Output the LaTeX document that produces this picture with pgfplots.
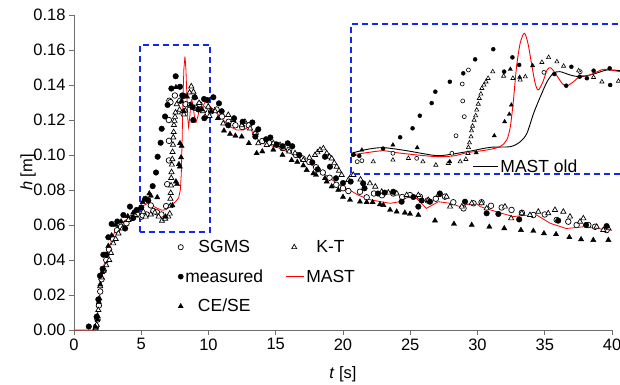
\documentclass[border=0pt]{standalone}
\usepackage{pgfplots}
\pgfplotsset{compat=1.18}
\usepackage{fontspec}
\setmainfont{Liberation Sans}
\definecolor{frameblue}{RGB}{20,40,235}
\definecolor{axgray}{RGB}{110,110,110}
\definecolor{mastred}{RGB}{255,0,0}
\begin{document}
\begin{tikzpicture}
\useasboundingbox (-74pt,-54pt) rectangle (546pt,330pt);
\begin{axis}[
  name=main,
  scale only axis, width=538pt, height=315pt,
  xmin=0, xmax=40, ymin=0, ymax=0.18,
  clip=false,
  axis lines=left,
  axis line style={-, draw=axgray, line width=0.9pt},
  xtick={0,5,10,15,20,25,30,35,40},
  ytick={0,0.02,0.04,0.06,0.08,0.10,0.12,0.14,0.16,0.18},
  scaled y ticks=false,
  yticklabel style={/pgf/number format/fixed,/pgf/number format/fixed zerofill,/pgf/number format/precision=2},
  /pgf/number format/assume math mode=true,
  tick align=outside, major tick length=5pt,
  tick style={draw=axgray, line width=0.9pt},
  ticklabel style={font=\fontsize{16.5}{19}\selectfont},
  xlabel={\textit{t} [s]}, ylabel={\textit{h} [m]},
  xlabel style={at={(axis description cs:0.5,0)}, anchor=center, yshift=-44pt, font=\fontsize{16.5}{19}\selectfont},
  ylabel style={at={(axis description cs:-0.0855,0.5)}, anchor=center, font=\fontsize{16.5}{19}\selectfont},
  legend columns=2,
  legend style={draw=none, fill=none, at={(0.1876,0.298)}, anchor=north west,
    font=\fontsize{17.5}{20}\selectfont, row sep=11.5pt,
    /tikz/every even column/.append style={column sep=20pt}},
]
% legend entries
\addlegendimage{only marks, mark=*, mark options={fill=white,draw=black,line width=0.7pt}, mark size=2.6pt}
\addlegendentry{SGMS}
\addlegendimage{only marks, mark=triangle*, mark options={fill=white,draw=black,line width=0.7pt}, mark size=2.9pt}
\addlegendentry{K-T}
\addlegendimage{only marks, mark=*, mark options={fill=black,draw=black}, mark size=2.6pt}
\addlegendentry{measured}
\addlegendimage{legend image code/.code={\draw[color=mastred, line width=1.1pt] (0pt,0.5pt) -- (18pt,0.5pt);}}
\addlegendentry{MAST}
\addlegendimage{only marks, mark=triangle*, mark options={fill=black,draw=black}, mark size=2.9pt}
\addlegendentry{CE/SE}

% SGMS
\addplot[forget plot, only marks, mark=*, mark size=2.8pt, mark options={fill=white,draw=black,line width=0.7pt}] table {
1.65 0.002
1.75 0.006
1.85 0.014
1.95 0.022
2.05 0.029
2.2 0.034
2.4 0.040
2.6 0.046
2.9 0.052
3.2 0.057
3.5 0.059
3.9 0.061
4.3 0.064
4.7 0.066
5.02 0.0648
5.11 0.0655
5.4 0.066
5.71 0.0712
5.9 0.068
6.17 0.0672
6.5 0.066
6.85 0.0708
6.93 0.0833
7.06 0.0969
7.06 0.1081
7.05 0.120
7.09 0.131
7.17 0.1302
7.5 0.134
7.9 0.131
8.3 0.129
8.63 0.1285
9.0 0.127
9.33 0.129
9.7 0.126
10.2 0.125
10.6 0.126
11.0 0.122
11.5 0.119
12.0 0.117
12.5 0.116
13.0 0.117
13.5 0.112
14.0 0.108
14.5 0.107
15.0 0.106
15.5 0.104
16.0 0.103
16.5 0.100
17.0 0.098
17.5 0.096
18.0 0.093
18.5 0.090
19.0 0.087
19.5 0.083
20.0 0.081
20.4 0.0794
21.26 0.079
21.76 0.0758
22.3 0.078
22.9 0.077
23.74 0.078
24.4 0.076
24.98 0.0771
25.72 0.0762
26.3 0.074
26.9 0.075
27.58 0.0762
28.2 0.073
28.96 0.0695
29.7 0.0724
30.3 0.073
31.0 0.071
31.8 0.070
32.53 0.0686
33.3 0.067
34.15 0.0657
35.0 0.066
35.89 0.0629
36.75 0.0619
37.37 0.060
38.24 0.060
38.74 0.059
39.6 0.0571
};

% K-T
\addplot[forget plot, only marks, mark=triangle*, mark size=3pt, mark options={fill=white,draw=black,line width=0.7pt}] table {
1.60 0.001
1.69 0.003
1.75 0.008
1.81 0.0114
1.88 0.018
1.95 0.025
2.05 0.030
2.2 0.034
2.4 0.037
2.62 0.040
2.75 0.044
2.92 0.0495
3.1 0.052
3.3 0.0552
3.6 0.058
4.04 0.0629
4.54 0.0657
5.15 0.0676
5.33 0.0648
5.71 0.066
6.01 0.0672
6.29 0.0648
6.54 0.0624
6.78 0.0636
7.01 0.0648
7.12 0.0665
7.16 0.0708
7.17 0.0750
7.19 0.0783
7.22 0.0826
7.23 0.0869
7.25 0.0902
7.28 0.0945
7.31 0.0976
7.33 0.1017
7.36 0.1059
7.38 0.1100
7.41 0.1131
7.43 0.1171
7.47 0.1195
7.51 0.1218
7.55 0.1243
7.64 0.1290
7.85 0.1259
8.03 0.1243
8.17 0.1231
8.27 0.1254
8.59 0.1357
8.72 0.1392
8.88 0.1361
9.01 0.1330
9.30 0.1297
9.59 0.1250
9.75 0.1218
9.98 0.1276
10.07 0.1223
10.5 0.125
11.1 0.118
11.47 0.1229
11.84 0.120
12.47 0.117
12.71 0.119
13.09 0.1152
13.46 0.1124
13.7 0.1067
14.33 0.1057
14.82 0.1067
15.32 0.1057
15.56 0.1038
16.0 0.102
16.43 0.101
17.05 0.0971
17.5 0.0985
17.92 0.100
18.1 0.1015
18.29 0.1029
18.54 0.1038
18.79 0.101
19.0 0.099
19.16 0.098
19.35 0.0955
19.53 0.0933
19.7 0.091
19.9 0.0886
20.4 0.0857
20.65 0.0886
20.77 0.0886
21.3 0.086
22.0 0.0838
22.4 0.0819
22.88 0.079
23.37 0.0785
23.99 0.078
24.73 0.0771
25.6 0.0771
26.34 0.0743
27.09 0.0771
27.7 0.0762
27.96 0.0705
28.83 0.0705
29.57 0.0724
30.3 0.0724
30.68 0.0695
32.04 0.0705
32.5 0.0638
33.29 0.0667
33.9 0.0657
34.52 0.0676
35.26 0.0667
35.76 0.0686
36.38 0.0676
36.88 0.0648
37.62 0.0619
37.87 0.0638
38.86 0.059
39.35 0.0571
39.73 0.0581
};

% measured
\addplot[forget plot, only marks, mark=*, mark size=2.8pt, mark options={fill=black,draw=black}] table {
1.10 0.002
1.68 0.0076
1.81 0.0175
1.93 0.031
2.13 0.035
2.18 0.043
2.42 0.043
2.55 0.053
2.80 0.0606
3.22 0.062
3.67 0.0657
3.80 0.058
4.16 0.0705
4.40 0.064
4.66 0.0686
5.00 0.070
5.30 0.075
5.52 0.0741
5.85 0.0822
6.10 0.090
6.22 0.099
6.44 0.107
6.52 0.115
6.77 0.122
6.96 0.1286
7.24 0.138
7.56 0.145
7.88 0.139
8.05 0.134
8.15 0.1338
8.83 0.1273
8.87 0.120
8.97 0.133
9.25 0.126
9.67 0.132
9.69 0.121
9.90 0.1314
10.36 0.133
10.78 0.1295
10.98 0.125
11.47 0.117
11.90 0.121
12.54 0.119
13.26 0.1186
13.48 0.1105
13.70 0.1147
14.28 0.109
14.60 0.110
15.07 0.106
15.51 0.105
15.89 0.1067
16.23 0.105
16.75 0.100
17.72 0.0958
18.12 0.0918
18.66 0.099
19.03 0.0933
19.48 0.0867
20.00 0.084
20.57 0.0848
21.50 0.0838
21.60 0.081
22.60 0.078
23.10 0.0785
23.74 0.079
24.36 0.0733
25.23 0.076
25.60 0.0705
25.85 0.074
26.47 0.0733
27.20 0.078
29.07 0.0733
30.68 0.0667
31.55 0.0663
33.10 0.0632
36.00 0.0625
38.07 0.060
39.60 0.0594
};

% CE/SE
\addplot[forget plot, only marks, mark=triangle*, mark size=3pt, mark options={fill=black,draw=black}] table {
1.60 0.0017
1.75 0.006
1.85 0.016
1.95 0.026
2.1 0.033
2.3 0.043
2.55 0.048
2.8 0.054
3.1 0.060
3.5 0.062
4.0 0.065
4.4 0.067
4.94 0.0696
5.11 0.0731
5.6 0.078
5.71 0.0767
6.19 0.0758
6.81 0.0648
7.32 0.0712
7.58 0.0848
7.67 0.0833
7.80 0.0947
7.87 0.0933
7.88 0.1067
7.96 0.0986
8.00 0.1052
7.58 0.1387
7.98 0.1307
8.16 0.1250
8.41 0.1333
8.67 0.1286
8.87 0.1196
9.5 0.126
10.2 0.125
10.7 0.121
11.15 0.1139
11.6 0.112
12.0 0.111
12.47 0.1105
13.0 0.1067
13.58 0.101
14.0 0.102
14.82 0.103
15.5 0.100
16.18 0.097
16.6 0.096
17.05 0.094
17.3 0.0914
17.8 0.0895
17.99 0.0886
18.66 0.0867
18.79 0.0848
19.16 0.082
19.65 0.080
20.0 0.076
20.52 0.0743
21.26 0.0733
21.76 0.073
22.2 0.073
22.75 0.0718
23.0 0.0714
23.5 0.0686
23.99 0.0676
24.6 0.067
24.98 0.0663
25.6 0.0657
26.84 0.0625
28.25 0.0606
29.57 0.060
30.88 0.059
31.99 0.0581
33.23 0.0571
34.15 0.0566
34.94 0.0552
35.84 0.0547
36.83 0.053
37.7 0.0518
38.61 0.0514
39.73 0.0514
};

% MAST
\addplot[forget plot, color=mastred, line width=0.8pt] table {
0 0
1.5 0
1.56 0.001
1.69 0.0057
1.88 0.017
2.06 0.0286
2.18 0.036
2.48 0.0438
2.8 0.0514
3.12 0.058
3.67 0.0619
4.41 0.0657
4.91 0.0696
5.20 0.0712
5.52 0.0726
5.78 0.0712
6.17 0.0696
6.56 0.0684
6.88 0.0689
7.14 0.0712
7.52 0.0731
7.78 0.0755
7.91 0.0803
7.98 0.0898
8.04 0.1088
8.10 0.1325
8.17 0.1492
8.25 0.1564
8.32 0.1492
8.40 0.1325
8.46 0.1207
8.52 0.1160
8.61 0.1218
8.69 0.1302
8.76 0.1318
8.85 0.1278
8.98 0.1207
9.07 0.1188
9.20 0.1218
9.33 0.1259
9.46 0.1259
9.62 0.1283
9.78 0.1307
9.91 0.1302
10.1 0.1280
10.86 0.1219
11.6 0.1162
12.1 0.1143
12.59 0.1143
13.03 0.1162
13.46 0.1105
13.95 0.1067
14.57 0.1055
15.32 0.1038
16.06 0.101
17.05 0.0971
18.04 0.0924
19.03 0.0867
19.9 0.082
20.5 0.0800
21.14 0.0770
22.1 0.0743
23.5 0.0724
24.2 0.0733
25.1 0.0770
25.5 0.0750
26.2 0.0695
27.1 0.0733
27.96 0.0724
28.7 0.0705
29.8 0.0730
30.2 0.0705
31.4 0.0676
32.66 0.0648
33.5 0.0655
34.4 0.0657
35.4 0.0610
36.6 0.0580
37.9 0.0590
38.9 0.0580
40.0 0.0570
};

\draw[frameblue, dash pattern=on 6pt off 4pt, line width=1.5pt] (axis cs:4.9,0.056) rectangle (axis cs:10.12,0.163);
\end{axis}

% inset
\begin{axis}[
  name=inset,
  at={(277pt,156pt)}, anchor=south west,
  scale only axis, width=269pt, height=150pt,
  xmin=4.9, xmax=10.1, ymin=0.056, ymax=0.163,
  axis lines=none, clip=false,
  legend style={draw=none, fill=none, at={(0.44,-0.027)}, anchor=south west,
    font=\fontsize{17.5}{20}\selectfont},
  legend image code/.code={\draw[#1] (0pt,0pt) -- (25pt,0pt);},
]
\addplot[forget plot, only marks, mark=*, mark size=2pt, mark options={fill=white,draw=black,line width=0.6pt}] table {
5.02 0.0648
5.11 0.0655
5.71 0.0708
6.17 0.0672
6.85 0.0708
6.93 0.0833
7.09 0.0969
7.06 0.1081
7.05 0.1202
7.17 0.1302
8.63 0.1285
9.33 0.1290
};
\addplot[forget plot, only marks, mark=triangle*, mark size=2.4pt, mark options={fill=white,draw=black,line width=0.6pt}] table {
5.33 0.0648
5.71 0.0660
6.01 0.0672
6.29 0.0648
6.54 0.0624
6.78 0.0636
7.01 0.0648
7.12 0.0665
7.16 0.0708
7.17 0.0750
7.19 0.0783
7.22 0.0826
7.23 0.0869
7.25 0.0902
7.28 0.0945
7.31 0.0976
7.33 0.1017
7.36 0.1059
7.38 0.1100
7.41 0.1131
7.43 0.1171
7.47 0.1195
7.51 0.1218
7.55 0.1243
7.64 0.1290
7.85 0.1259
8.03 0.1243
8.17 0.1231
8.27 0.1254
8.59 0.1357
8.72 0.1392
8.88 0.1361
9.01 0.1330
9.30 0.1297
9.59 0.1250
9.75 0.1218
10.07 0.1223
};
\addplot[forget plot, only marks, mark=*, mark size=2pt, mark options={fill=black,draw=black}] table {
4.94 0.0696
5.06 0.0689
5.52 0.0741
5.85 0.0822
6.09 0.0886
6.23 0.0976
6.46 0.1066
6.53 0.1147
6.81 0.1218
7.07 0.1278
7.30 0.1378
7.65 0.1450
7.86 0.1290
8.02 0.1392
8.15 0.1338
8.83 0.1273
9.06 0.1190
9.16 0.1325
9.32 0.1254
9.46 0.1243
9.59 0.1297
9.90 0.1314
9.91 0.1195
};
\addplot[forget plot, only marks, mark=triangle*, mark size=2.4pt, mark options={fill=black,draw=black}] table {
4.96 0.0700
5.11 0.0731
5.71 0.0767
6.18 0.0748
6.81 0.0648
7.32 0.0712
7.67 0.0833
7.87 0.0933
7.96 0.0986
8.00 0.1052
7.98 0.1307
8.16 0.1250
8.41 0.1333
};
\addplot[black, line width=0.9pt, smooth] table {
4.91 0.0708
5.20 0.0735
5.52 0.0748
5.98 0.0726
6.30 0.0705
6.62 0.0691
7.14 0.0719
7.59 0.0750
7.98 0.0755
8.17 0.0790
8.30 0.0850
8.43 0.0993
8.56 0.1111
8.69 0.1218
8.81 0.1278
8.94 0.1290
9.14 0.1266
9.33 0.1254
9.59 0.1273
9.85 0.1302
10.1 0.1297
};
\addlegendentry{MAST old}
\addplot[forget plot, color=mastred, line width=0.9pt, smooth] table {
4.91 0.0696
5.20 0.0712
5.52 0.0726
5.78 0.0712
6.17 0.0696
6.56 0.0684
6.88 0.0689
7.14 0.0712
7.52 0.0731
7.78 0.0755
7.91 0.0803
7.98 0.0898
8.04 0.1088
8.10 0.1325
8.17 0.1492
8.25 0.1564
8.32 0.1492
8.40 0.1325
8.46 0.1207
8.52 0.1160
8.61 0.1218
8.69 0.1302
8.76 0.1318
8.85 0.1278
8.98 0.1207
9.07 0.1188
9.20 0.1218
9.33 0.1259
9.46 0.1259
9.62 0.1283
9.78 0.1307
9.91 0.1302
10.1 0.1290
};
\end{axis}
\draw[frameblue, dash pattern=on 6pt off 4pt, line width=1.3pt] (inset.south east) -- (inset.south west) -- (inset.north west) -- (inset.north east);
\end{tikzpicture}
\end{document}
